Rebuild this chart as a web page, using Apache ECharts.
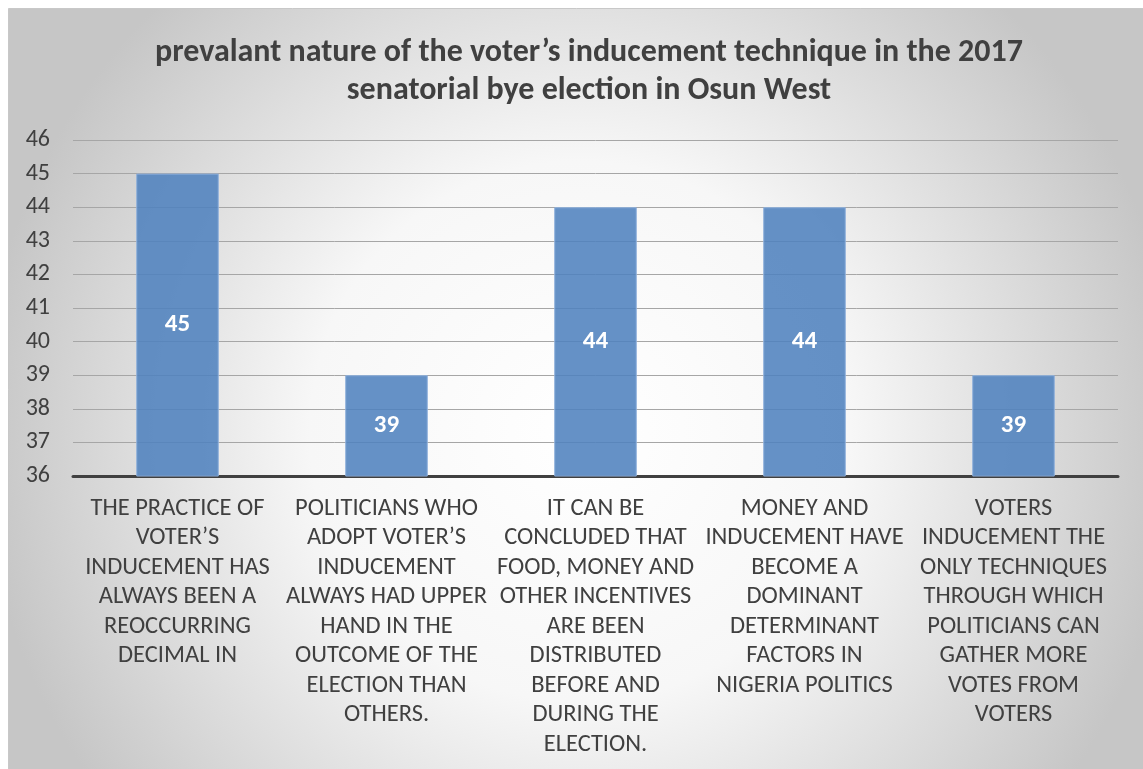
<!DOCTYPE html>
<html>
<head>
<meta charset="utf-8">
<script src="https://cdn.jsdelivr.net/npm/echarts@6/dist/echarts.min.js"></script>
<style>
html,body{margin:0;padding:0;background:#fff;}
#chart{width:1143px;height:769px;}
</style>
</head>
<body>
<div id="chart"></div>
<script>
const titleText = "prevalant nature of the voter\u2019s inducement technique in the 2017\nsenatorial bye election in Osun West";
const categories = [
  "THE PRACTICE OF\nVOTER\u2019S\nINDUCEMENT HAS\nALWAYS BEEN A\nREOCCURRING\nDECIMAL IN",
  "POLITICIANS WHO\nADOPT VOTER\u2019S\nINDUCEMENT\nALWAYS HAD UPPER\nHAND IN THE\nOUTCOME OF THE\nELECTION THAN\nOTHERS.",
  "IT CAN BE\nCONCLUDED THAT\nFOOD, MONEY AND\nOTHER INCENTIVES\nARE BEEN\nDISTRIBUTED\nBEFORE AND\nDURING THE\nELECTION.",
  "MONEY AND\nINDUCEMENT HAVE\nBECOME A\nDOMINANT\nDETERMINANT\nFACTORS IN\nNIGERIA POLITICS",
  "VOTERS\nINDUCEMENT THE\nONLY TECHNIQUES\nTHROUGH WHICH\nPOLITICIANS CAN\nGATHER MORE\nVOTES FROM\nVOTERS"
];
const values = [45, 39, 44, 44, 39];
const yMin = 36, yMax = 46, yStep = 1;

const FONT = "Carlito, Lato, sans-serif";
const chart = echarts.init(document.getElementById('chart'));
chart.setOption({
  animation: false,
  graphic: [{
    type: 'rect',
    z: -10,
    silent: true,
    shape: {x: 8.5, y: 8.5, width: 1143, height: 769},
    style: {
      fill: {type: 'radial', x: 0.5, y: 0.55, r: 0.78,
        colorStops: [{offset: 0, color: '#ffffff'}, {offset: 0.45, color: '#f7f7f7'}, {offset: 1, color: '#c6c6c6'}]},
      stroke: '#c8c8c8', lineWidth: 1
    }
  }],
  title: {
    text: titleText,
    left: 584,
    textAlign: 'center',
    top: 29,
    textStyle: {fontFamily: FONT, fontWeight: 'bold', fontSize: 32, color: '#404040', lineHeight: 38}
  },
  grid: {left: 73, right: 25, top: 140, bottom: 293, containLabel: false},
  xAxis: {
    type: 'category',
    data: categories,
    axisLine: {show: true, lineStyle: {color: '#404040', width: 3}},
    axisTick: {show: false},
    axisLabel: {interval: 0, margin: 18, fontFamily: FONT, fontSize: 24.5, lineHeight: 29.5, color: '#404040', align: 'center'}
  },
  yAxis: {
    type: 'value',
    min: yMin, max: yMax, interval: yStep,
    axisLine: {show: false},
    axisTick: {show: false},
    axisLabel: {margin: 23, fontFamily: FONT, fontSize: 24, color: '#404040'},
    splitLine: {lineStyle: {color: '#a6a6a6', width: 1}}
  },
  series: [{
    type: 'bar',
    data: values,
    barWidth: '39.5%',
    itemStyle: {color: 'rgba(80,130,190,0.88)', borderColor: '#8fb0dc', borderWidth: 1},
    label: {show: true, position: 'inside', color: '#ffffff', fontFamily: FONT, fontWeight: 'bold', fontSize: 25}
  }]
});
</script>
</body>
</html>
